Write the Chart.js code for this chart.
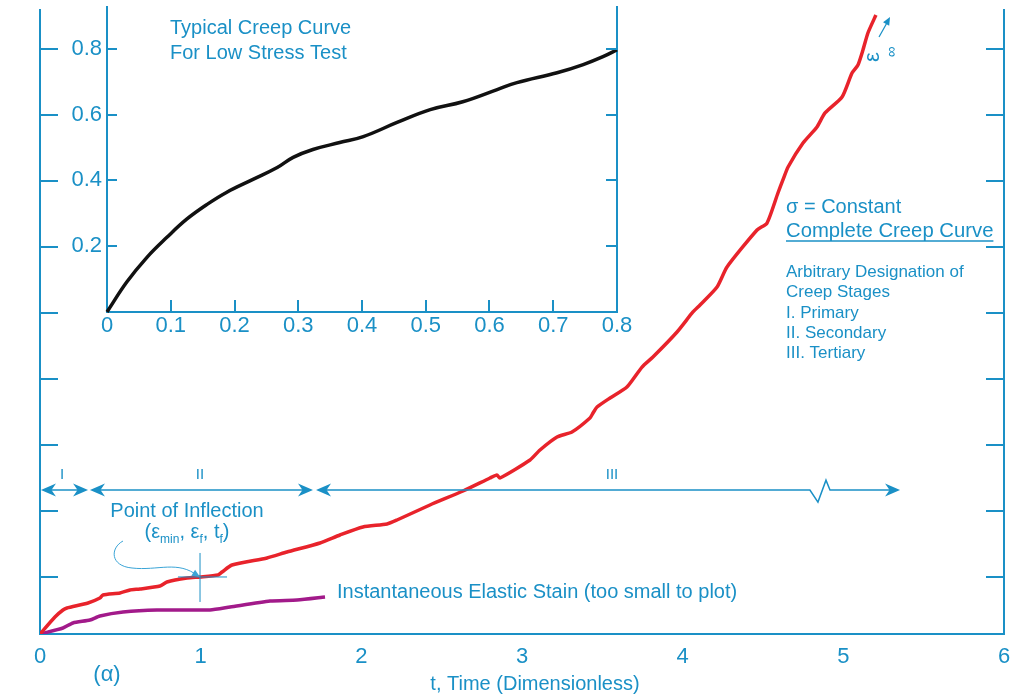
<!DOCTYPE html>
<html><head><meta charset="utf-8">
<script src="https://cdn.jsdelivr.net/npm/chart.js@4/dist/chart.umd.min.js"></script>
<style>
html,body{margin:0;padding:0;background:#fff;}
#wrap{position:relative;width:1017px;height:697px;overflow:hidden;}
#main,#inset{position:absolute;left:0;top:0;}
</style></head><body>
<div id="wrap"><canvas id="main" width="1017" height="697"></canvas><canvas id="inset" width="640" height="345"></canvas></div>
<script>
const BLUE = '#1a90c6';
const RED = '#e8232b';
const MAGENTA = '#a21a8a';
const FONT = '"Liberation Sans", Arial, Helvetica, sans-serif';

// main chart: time t (dimensionless) and strain (in tick divisions)
const xTicks = [0, 1, 2, 3, 4, 5, 6];
const yTickValues = [0.864, 1.864, 2.864, 3.864, 4.864, 5.864, 6.864, 7.864, 8.864];
const creepT = [0,0.093,0.143,0.168,0.299,0.373,0.392,0.498,0.560,0.622,0.747,0.790,0.915,0.996,1.108,1.133,1.195,1.413,1.537,1.743,1.867,2.010,2.160,2.222,2.427,2.633,2.801,2.844,2.863,3.050,3.112,3.218,3.311,3.423,3.442,3.467,3.548,3.653,3.747,3.815,3.965,4.064,4.108,4.214,4.276,4.463,4.525,4.593,4.624,4.656,4.749,4.836,4.886,4.992,5.054,5.091,5.122,5.153,5.203];
const creepStrain = [0,0.258,0.364,0.394,0.470,0.545,0.591,0.621,0.667,0.682,0.727,0.788,0.848,0.864,0.894,0.939,1.045,1.152,1.242,1.379,1.500,1.621,1.667,1.727,1.955,2.167,2.364,2.409,2.364,2.636,2.788,2.985,3.061,3.273,3.348,3.439,3.576,3.742,4.045,4.197,4.576,4.879,4.985,5.258,5.561,6.121,6.227,6.682,6.879,7.076,7.439,7.682,7.894,8.136,8.500,8.621,8.848,9.106,9.379];
const elasticT = [0,0.143,0.205,0.311,0.373,0.517,0.728,1.058,1.183,1.432,1.600,1.774];
const elasticStrain = [0,0.091,0.167,0.212,0.273,0.333,0.364,0.364,0.409,0.500,0.515,0.561];
// stage designation arrows (t ranges) and level
const stageRanges = [[0.006,0.299],[0.311,1.699],[1.718,5.353]];
const stageLabels = ['I','II','III'];
const stageLabelT = [0.137, 0.996, 3.56];
const stageLevel = 2.18;
const breakT = [4.792, 4.842, 4.892, 4.917];
const inflection = {t: 0.996, v: 0.864};

// inset chart: typical creep curve for low stress test
const insetXTicks = [0,0.1,0.2,0.3,0.4,0.5,0.6,0.7,0.8];
const insetYTicks = [0.2,0.4,0.6,0.8];
const insetT = [0,0.031,0.063,0.094,0.125,0.157,0.188,0.229,0.267,0.292,0.323,0.365,0.402,0.455,0.507,0.558,0.612,0.643,0.706,0.747,0.778,0.8];
const insetStrain = [0,0.091,0.167,0.227,0.282,0.327,0.364,0.403,0.439,0.470,0.494,0.515,0.533,0.576,0.615,0.639,0.676,0.697,0.727,0.752,0.776,0.797];

function pts(xs, ys){ return xs.map((x,i)=>({x:x, y:ys[i]})); }
function noPad(s){ s.paddingTop = 0; s.paddingBottom = 0; s.paddingLeft = 0; s.paddingRight = 0; }

function arrowHead(ctx, x, y, dir, len, half){
  ctx.beginPath();
  ctx.moveTo(x, y);
  ctx.lineTo(x - dir*len, y - half);
  ctx.lineTo(x - dir*len*0.7, y);
  ctx.lineTo(x - dir*len, y + half);
  ctx.closePath();
  ctx.fill();
}
function text(ctx, s, x, y, size, align){
  ctx.font = size + 'px ' + FONT;
  ctx.textAlign = align || 'left';
  ctx.textBaseline = 'alphabetic';
  ctx.fillText(s, x, y);
}

const mainDeco = {
  id: 'mainDeco',
  afterDraw(chart){
    const ctx = chart.ctx, xs = chart.scales.x, ys = chart.scales.y, a = chart.chartArea;
    ctx.save();
    ctx.strokeStyle = BLUE; ctx.fillStyle = BLUE;
    // inward tick marks on both sides
    ctx.lineWidth = 2;
    yTickValues.forEach(v=>{
      const py = Math.round(ys.getPixelForValue(v));
      ctx.beginPath(); ctx.moveTo(a.left, py); ctx.lineTo(a.left+18, py);
      ctx.moveTo(a.right-18, py); ctx.lineTo(a.right, py); ctx.stroke();
    });
    // stage arrows
    const sy = ys.getPixelForValue(stageLevel);
    ctx.lineWidth = 1.5;
    stageRanges.forEach((r,i)=>{
      const x1 = xs.getPixelForValue(r[0]), x2 = xs.getPixelForValue(r[1]);
      ctx.beginPath();
      if (i === 2){
        const b = breakT.map(t=>xs.getPixelForValue(t));
        ctx.moveTo(x1+8, sy); ctx.lineTo(b[0], sy); ctx.lineTo(b[1], sy+12);
        ctx.lineTo(b[2], sy-10); ctx.lineTo(b[3], sy); ctx.lineTo(x2-8, sy);
      } else {
        ctx.moveTo(x1+8, sy); ctx.lineTo(x2-8, sy);
      }
      ctx.stroke();
      arrowHead(ctx, x1, sy, -1, 15, 6.5);
      arrowHead(ctx, x2, sy, 1, 15, 6.5);
      text(ctx, stageLabels[i], xs.getPixelForValue(stageLabelT[i]), sy-11, 15, 'center');
    });
    // inflection cross
    const ix = xs.getPixelForValue(inflection.t), iy = ys.getPixelForValue(inflection.v);
    ctx.lineWidth = 1;
    ctx.beginPath();
    ctx.moveTo(ix-22, iy); ctx.lineTo(ix+27, iy);
    ctx.moveTo(ix, iy-24); ctx.lineTo(ix, iy+25);
    ctx.stroke();
    // curved pointer
    ctx.strokeStyle = '#3aa4d6';
    ctx.beginPath();
    ctx.moveTo(123, 541);
    ctx.bezierCurveTo(110, 548, 110, 566, 132, 568);
    ctx.bezierCurveTo(158, 571, 178, 560, ix-2, iy-1);
    ctx.stroke();
    ctx.save(); ctx.translate(ix, iy); ctx.rotate(Math.atan2(iy-1-566, ix-2-182));
    ctx.fillStyle = '#3aa4d6';
    ctx.beginPath(); ctx.moveTo(0,0); ctx.lineTo(-8,-3.5); ctx.lineTo(-8,3.5); ctx.closePath(); ctx.fill();
    ctx.restore();
    ctx.fillStyle = BLUE; ctx.strokeStyle = BLUE;
    // labels
    text(ctx, 'Point of Inflection', 187, 517, 20, 'center');
    // (ε_min, ε_f, t_f)
    const parts = [['(ε',20,0],['min',12,5],[', ε',20,0],['f',12,5],[', t',20,0],['f',12,5],[')',20,0]];
    let w = 0;
    parts.forEach(p=>{ ctx.font = p[1]+'px '+FONT; w += ctx.measureText(p[0]).width; });
    let px = 187 - w/2;
    parts.forEach(p=>{ ctx.font = p[1]+'px '+FONT; ctx.textAlign='left'; ctx.fillText(p[0], px, 538 + p[2]); px += ctx.measureText(p[0]).width; });

    text(ctx, 'Instantaneous Elastic Stain (too small to plot)', 337, 598, 20);
    text(ctx, 'σ = Constant', 786, 213, 20);
    text(ctx, 'Complete Creep Curve', 786, 237, 20.3);
    ctx.font = '20.3px ' + FONT;
    const uw = ctx.measureText('Complete Creep Curve').width;
    ctx.lineWidth = 1.5;
    ctx.beginPath(); ctx.moveTo(786, 241); ctx.lineTo(786+uw, 241); ctx.stroke();
    ['Arbitrary Designation of','Creep Stages','I. Primary','II. Secondary','III. Tertiary'].forEach((s,i)=>{
      text(ctx, s, 786, 277 + i*20.3, 17);
    });
    text(ctx, 'Typical Creep Curve', 170, 34, 20);
    text(ctx, 'For Low Stress Test', 170, 59, 20);
    text(ctx, '(α)', 107, 681, 22, 'center');
    text(ctx, 't, Time (Dimensionless)', 535, 690, 20, 'center');
    // ε∞ label with arrow
    ctx.save(); ctx.translate(879, 57); ctx.rotate(-Math.PI/2);
    text(ctx, 'ε', 0, 0, 22, 'center');
    ctx.restore();
    ctx.save(); ctx.translate(896, 52); ctx.rotate(-Math.PI/2);
    text(ctx, '∞', 0, 0, 15, 'center');
    ctx.restore();
    ctx.lineWidth = 1.2;
    ctx.beginPath(); ctx.moveTo(879, 37); ctx.lineTo(888, 21); ctx.stroke();
    ctx.save(); ctx.translate(890, 17); ctx.rotate(Math.atan2(-20, 11));
    ctx.beginPath(); ctx.moveTo(0,0); ctx.lineTo(-8,-3.5); ctx.lineTo(-8,3.5); ctx.closePath(); ctx.fill();
    ctx.restore();
    ctx.restore();
  }
};

new Chart(document.getElementById('main'), {
  type: 'line',
  data: { datasets: [
    { label: 'Complete Creep Curve', data: pts(creepT, creepStrain), borderColor: RED, borderWidth: 3.5, pointRadius: 0, tension: 0.2, fill: false },
    { label: 'Instantaneous Elastic Strain', data: pts(elasticT, elasticStrain), borderColor: MAGENTA, borderWidth: 3.5, pointRadius: 0, tension: 0.2, fill: false }
  ]},
  options: {
    responsive: false, animation: false, events: [],
    layout: { padding: { top: 10, left: 0, right: 0, bottom: 0 } },
    plugins: { legend: { display: false }, tooltip: { enabled: false } },
    scales: {
      x: { type: 'linear', position: 'bottom', min: 0, max: 6,
        afterBuildTicks: s => { s.ticks = xTicks.map(v => ({ value: v })); },
        afterFit: s => { s.height = 63; noPad(s); },
        grid: { display: false, drawTicks: false },
        border: { display: true, color: BLUE, width: 2 },
        ticks: { color: BLUE, font: { family: FONT, size: 22 }, padding: 10, maxRotation: 0, autoSkip: false,
          callback: v => String(v) } },
      y: { type: 'linear', position: 'left', min: 0, max: 9.4545,
        afterBuildTicks: s => { s.ticks = yTickValues.map(v => ({ value: v })); },
        afterFit: s => { s.width = 40; noPad(s); },
        grid: { display: false, drawTicks: false },
        border: { display: true, color: BLUE, width: 2 },
        ticks: { display: false } },
      yR: { type: 'linear', position: 'right', min: 0, max: 9.4545,
        afterFit: s => { s.width = 13; noPad(s); },
        grid: { display: false, drawTicks: false },
        border: { display: true, color: BLUE, width: 2 },
        ticks: { display: false } }
    }
  },
  plugins: [mainDeco]
});

const insetDeco = {
  id: 'insetDeco',
  afterDraw(chart){
    const ctx = chart.ctx, xs = chart.scales.x, ys = chart.scales.y, a = chart.chartArea;
    ctx.save();
    ctx.strokeStyle = BLUE; ctx.lineWidth = 2;
    insetYTicks.forEach(v=>{
      const py = Math.round(ys.getPixelForValue(v));
      ctx.beginPath(); ctx.moveTo(a.left, py); ctx.lineTo(a.left+10, py);
      ctx.moveTo(a.right-11, py); ctx.lineTo(a.right, py); ctx.stroke();
    });
    insetXTicks.slice(1, -1).forEach(v=>{
      const px = Math.round(xs.getPixelForValue(v));
      ctx.beginPath(); ctx.moveTo(px, a.bottom); ctx.lineTo(px, a.bottom-12); ctx.stroke();
    });
    ctx.restore();
  }
};

new Chart(document.getElementById('inset'), {
  type: 'line',
  data: { datasets: [
    { label: 'Typical Creep Curve', data: pts(insetT, insetStrain), borderColor: '#111111', borderWidth: 3.5, pointRadius: 0, tension: 0.4, fill: false, clip: false }
  ]},
  options: {
    responsive: false, animation: false, events: [],
    layout: { padding: { top: 7, left: 0, right: 0, bottom: 0 } },
    plugins: { legend: { display: false }, tooltip: { enabled: false } },
    scales: {
      x: { type: 'linear', position: 'bottom', min: 0, max: 0.8,
        afterBuildTicks: s => { s.ticks = insetXTicks.map(v => ({ value: v })); },
        afterFit: s => { s.height = 33; noPad(s); },
        grid: { display: false, drawTicks: false },
        border: { display: true, color: BLUE, width: 2 },
        ticks: { color: BLUE, font: { family: FONT, size: 22 }, padding: 1, maxRotation: 0, autoSkip: false,
          callback: v => v === 0 ? '0' : v.toFixed(1) } },
      y: { type: 'linear', position: 'left', min: 0, max: 0.927,
        afterBuildTicks: s => { s.ticks = insetYTicks.map(v => ({ value: v })); },
        afterFit: s => { s.width = 107; noPad(s); },
        grid: { display: false, drawTicks: false },
        border: { display: true, color: BLUE, width: 2 },
        ticks: { color: BLUE, font: { family: FONT, size: 22 }, padding: 5, callback: v => v.toFixed(1) } },
      yR: { type: 'linear', position: 'right', min: 0, max: 0.927,
        afterFit: s => { s.width = 23; noPad(s); },
        grid: { display: false, drawTicks: false },
        border: { display: true, color: BLUE, width: 2 },
        ticks: { display: false } }
    }
  },
  plugins: [insetDeco]
});
</script>
</body></html>
